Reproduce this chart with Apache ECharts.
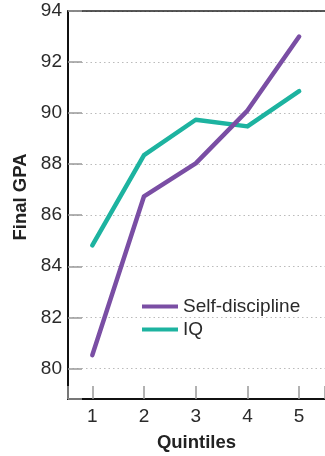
<!DOCTYPE html>
<html>
<head>
<meta charset="utf-8">
<script src="https://cdn.jsdelivr.net/npm/echarts@6/dist/echarts.min.js"></script>
<style>
  html, body { margin: 0; padding: 0; background: #fff; }
  #chart { width: 325px; height: 456px; }
</style>
</head>
<body>
<div id="chart"></div>
<script>
// Final GPA by quintile of self-discipline and of IQ
const quintiles = [1, 2, 3, 4, 5];
const selfDiscipline = [80.52, 86.74, 88.03, 90.1, 93.0];
const iq = [84.82, 88.35, 89.74, 89.48, 90.86];
const gpaTicks = [80, 82, 84, 86, 88, 90, 92, 94];

const PURPLE = '#7a4ea4';
const TEAL = '#1db3a0';
const FONT = '"Liberation Sans", Arial, Helvetica, sans-serif';

const pairs = (xs, ys) => xs.map((x, i) => [x, ys[i]]);

const chart = echarts.init(document.getElementById('chart'), null, { renderer: 'canvas' });

chart.setOption({
  backgroundColor: '#fff',
  animation: false,
  textStyle: { fontFamily: FONT },
  grid: {
    left: 68, right: 0, top: 11, bottom: 57,
    containLabel: false,
    outerBoundsMode: 'none'
  },
  xAxis: [
    {
      type: 'value',
      min: 0.53,
      max: 5.5,
      minInterval: 1,
      maxInterval: 1,
      splitNumber: 5,
      name: 'Quintiles',
      nameLocation: 'middle',
      nameGap: 34,
      nameTextStyle: { fontFamily: FONT, fontSize: 18.5, fontWeight: 'bold', color: '#222' },
      axisLine: { show: true, onZero: false, lineStyle: { color: '#111', width: 2 } },
      axisTick: {
        show: true, inside: true, length: 13,
        lineStyle: { color: '#999', width: 1.5 }
      },
      axisLabel: {
        margin: 8,
        fontFamily: FONT, fontSize: 19, color: '#2a2a2a',
        formatter: v => (quintiles.includes(v) ? String(v) : '')
      },
      splitLine: { show: false }
    },
    {
      // top frame line
      type: 'value',
      position: 'top',
      min: 0.53,
      max: 5.5,
      axisLine: { show: true, lineStyle: { color: '#222', width: 1.5 } },
      axisTick: { show: false },
      axisLabel: { show: false },
      splitLine: { show: false }
    }
  ],
  yAxis: {
    type: 'value',
    min: 78.8,
    max: 94,
    minInterval: 2,
    maxInterval: 2,
    splitNumber: 8,
    name: 'Final GPA',
    nameLocation: 'middle',
    nameGap: 36,
    nameTextStyle: {
      fontFamily: FONT, fontSize: 18.5, fontWeight: 'bold', color: '#222',
      padding: [0, 0, 0, 16]
    },
    axisLine: { show: true, onZero: false, lineStyle: { color: '#111', width: 2 } },
    axisTick: {
      show: true, inside: true, length: 14,
      lineStyle: { color: '#999', width: 1.5 }
    },
    axisLabel: {
      margin: 6,
      padding: [3, 0, 0, 0],
      fontFamily: FONT, fontSize: 19, color: '#2a2a2a',
      formatter: v => (gpaTicks.includes(v) ? String(v) : '')
    },
    splitLine: {
      show: true,
      lineStyle: { color: '#bbb', width: 1, type: [1.5, 3] }
    }
  },
  legend: {
    orient: 'vertical',
    left: 137,
    top: 292,
    itemWidth: 36,
    itemHeight: 4,
    itemGap: 4,
    icon: 'rect',
    textStyle: { fontFamily: FONT, fontSize: 19, color: '#2a2a2a', lineHeight: 19 },
    data: ['Self-discipline', 'IQ']
  },
  series: [
    {
      name: 'Self-discipline',
      type: 'line',
      data: pairs(quintiles, selfDiscipline),
      showSymbol: false,
      symbol: 'none',
      lineStyle: { color: PURPLE, width: 4.5, cap: 'round', join: 'round' },
      itemStyle: { color: PURPLE },
      z: 3
    },
    {
      name: 'IQ',
      type: 'line',
      data: pairs(quintiles, iq),
      showSymbol: false,
      symbol: 'none',
      lineStyle: { color: TEAL, width: 4.5, cap: 'round', join: 'round' },
      itemStyle: { color: TEAL },
      z: 2
    }
  ]
});
</script>
</body>
</html>
